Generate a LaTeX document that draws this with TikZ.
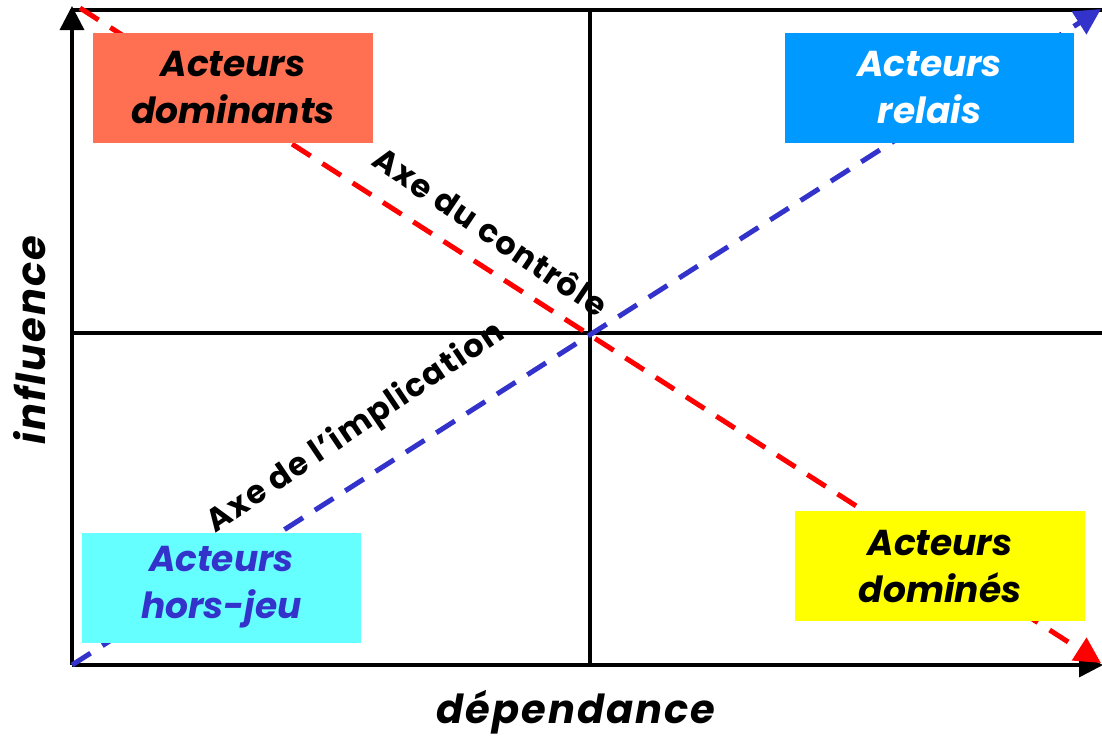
\documentclass[tikz,border=0pt]{standalone}
\usepackage{fontspec}
\setmainfont{Poppins}
\newfontfamily\widepoppins[LetterSpace=4.5]{Poppins}
\newfontfamily\titlepoppins[LetterSpace=5]{Poppins}
\usetikzlibrary{arrows.meta}
\definecolor{domcol}{RGB}{255,112,82}
\definecolor{relcol}{RGB}{0,153,255}
\definecolor{dmecol}{RGB}{255,255,0}
\definecolor{hjcol}{RGB}{102,255,255}
\definecolor{hjtext}{RGB}{51,51,204}
\definecolor{redaxis}{RGB}{255,0,0}
\definecolor{blueaxis}{RGB}{51,51,204}
\tikzset{
  axisline/.style={line width=3.5pt, black},
  axisarrow/.style={axisline, -{Triangle[length=24pt,width=24pt]}},
  diagaxis/.style={line width=5pt, dash pattern=on 22pt off 14pt},
  actorbox/.style={rectangle, minimum width=#1, minimum height=110pt, inner sep=0pt, align=center,
     font=\fontsize{36}{47}\selectfont\bfseries\itshape},
  axislabel/.style={font=\widepoppins\fontsize{32}{36}\selectfont\bfseries, inner sep=0pt},
  titlelabel/.style={font=\titlepoppins\fontsize{40}{44}\selectfont\bfseries\itshape, inner sep=0pt}
}
\begin{document}
\begin{tikzpicture}[x=1pt,y=-1pt]
\useasboundingbox (0,0) rectangle (1102,740);
% coordinates
\coordinate (O) at (72,665);
\coordinate (Ytop) at (72,6);
\coordinate (Xend) at (1103,665);
\coordinate (TL) at (72,10);
\coordinate (TR) at (1102,10);
\coordinate (Vt) at (590,10);
\coordinate (Vb) at (590,665);
\coordinate (Hl) at (72,333);
\coordinate (Hr) at (1102,333);
\coordinate (Rs) at (80,8);
\coordinate (Re) at (1101,663);
\coordinate (Bs) at (72,665);
\coordinate (Be) at (1101,9);
% frame and axes
\draw[axisline] (TL) -- (TR);
\draw[axisline] (Vt) -- (Vb);
\draw[axisline] (Hl) -- (Hr);
\draw[axisarrow] (O) -- (Ytop);
\draw[axisarrow] (O) -- (Xend);
% diagonal axes
\draw[diagaxis, redaxis, -{Triangle[length=26pt,width=26pt]}] (Rs) -- (Re);
\draw[diagaxis, blueaxis, -{Triangle[length=26pt,width=26pt]}] (Bs) -- (Be);
% boxes
\node[actorbox=280pt, fill=domcol, text=black] (dom) at (233,88) {Acteurs\\dominants};
\node[actorbox=289pt, fill=relcol, text=white] (rel) at (929.5,88) {Acteurs\\relais};
\node[actorbox=290pt, fill=dmecol, text=black] (dme) at (940,566) {Acteurs\\dominés};
\node[actorbox=279pt, fill=hjcol, text=hjtext] (hj) at (221.5,587.5) {Acteurs\\hors-jeu};
% axis labels
\node[axislabel, rotate=-34] (ctrl) at (491,231) {Axe du contrôle};
\node[axislabel, rotate=34] (impl) at (356,428) {Axe de l’implication};
\node[titlelabel, rotate=90] (infl) at (30,340) {influence};
\node[titlelabel] (dep) at (576,712) {dépendance};
\end{tikzpicture}
\end{document}
